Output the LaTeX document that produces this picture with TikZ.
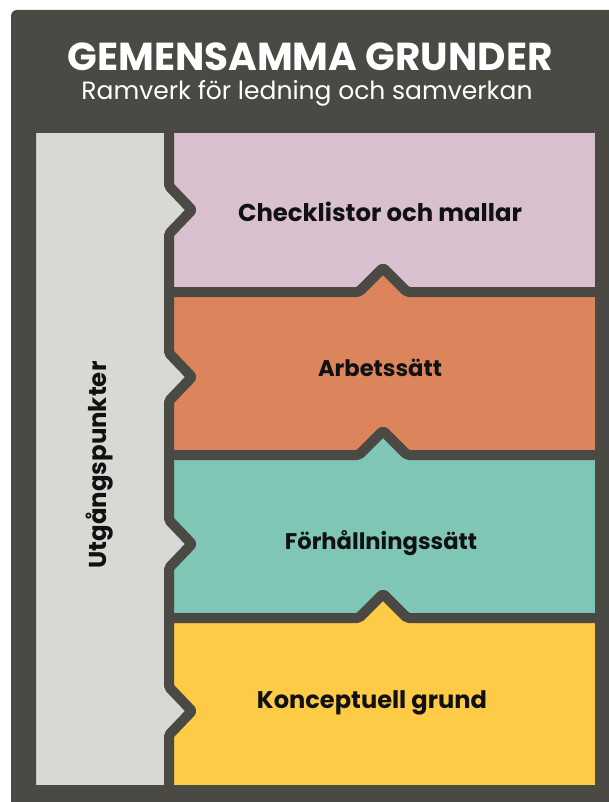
\documentclass[tikz,border=0pt]{standalone}
\usepackage{fontspec}
\usepackage{graphicx}
\setmainfont{Poppins}
\definecolor{darkbg}{HTML}{4A4944}
\definecolor{graypanel}{HTML}{D8D9D4}
\definecolor{pinkblk}{HTML}{D8C0CF}
\definecolor{orangeblk}{HTML}{DC845B}
\definecolor{tealblk}{HTML}{7FC6B6}
\definecolor{yellowblk}{HTML}{FECB47}
\definecolor{labeltext}{HTML}{111111}
\tikzset{
  piece/.style={draw=darkbg, line width=10pt, line join=round, rounded corners=2pt},
  blocklabel/.style={text=labeltext, inner sep=0pt, anchor=center},
}
\newcommand{\fitw}[2]{\resizebox{#1pt}{!}{#2}}
\begin{document}
\begin{tikzpicture}[x=1pt,y=-1pt]
\useasboundingbox (0,0) rectangle (608,802);
\fill[white] (0,0) rectangle (608,802);
\fill[darkbg, rounded corners=6pt] (11,10) rectangle (630,830);
% gray panel
\path[piece, fill=graypanel] (31,128) -- (169,128)
  -- (169,186) -- (192,210) -- (169,234)
  -- (169,353) -- (192,377) -- (169,401)
  -- (169,520) -- (192,544) -- (169,568)
  -- (169,687) -- (192,711) -- (169,735)
  -- (169,790) -- (31,790) -- cycle;
% block 1
\path[piece, fill=pinkblk] (169,128) -- (600,128) -- (600,292)
  -- (407,292) -- (383,268) -- (359,292) -- (169,292)
  -- (169,234) -- (192,210) -- (169,186) -- cycle;
% block 2
\path[piece, fill=orangeblk] (169,292) -- (359,292) -- (383,268) -- (407,292) -- (600,292) -- (600,455)
  -- (407,455) -- (383,431) -- (359,455) -- (169,455)
  -- (169,401) -- (192,377) -- (169,353) -- cycle;
% block 3
\path[piece, fill=tealblk] (169,455) -- (359,455) -- (383,431) -- (407,455) -- (600,455) -- (600,618)
  -- (407,618) -- (383,594) -- (359,618) -- (169,618)
  -- (169,568) -- (192,544) -- (169,520) -- cycle;
% block 4
\path[piece, fill=yellowblk] (169,618) -- (359,618) -- (383,594) -- (407,618) -- (600,618) -- (600,790)
  -- (169,790)
  -- (169,735) -- (192,711) -- (169,687) -- cycle;
% texts
\node[text=white, inner sep=0pt] (title) at (310,57) {\fitw{485}{\bfseries GEMENSAMMA GRUNDER}};
\node[text=white, inner sep=0pt] (subtitle) at (307,93) {\fitw{451}{Ramverk för ledning och samverkan}};
\node[blocklabel] (l1) at (380,212) {\fitw{284}{\bfseries Checklistor och mallar}};
\node[blocklabel] (l2) at (380,368) {\fitw{124}{\bfseries Arbetssätt}};
\node[blocklabel] (l3) at (381,543) {\fitw{192}{\bfseries Förhållningssätt}};
\node[blocklabel] (l4) at (372,703) {\fitw{230}{\bfseries Konceptuell grund}};
\node[blocklabel, rotate=90] (side) at (100,465) {\fitw{207}{\bfseries Utgångspunkter}};
\end{tikzpicture}
\end{document}
